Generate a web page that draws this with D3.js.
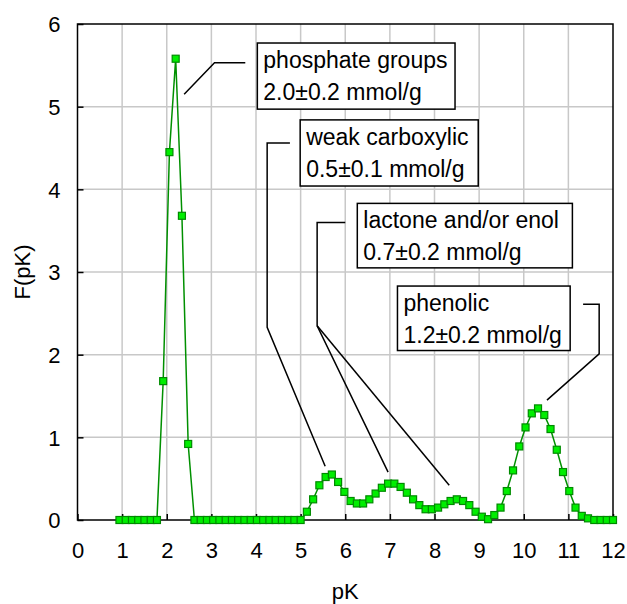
<!DOCTYPE html>
<html>
<head>
<meta charset="utf-8">
<script src="https://cdn.jsdelivr.net/npm/d3@7"></script>
<style>
  html, body { margin: 0; padding: 0; background: #fff; }
  svg { display: block; font-family: "Liberation Sans", Arial, sans-serif; }
</style>
</head>
<body>
<svg id="chart" width="627" height="604"></svg>
<script>
// pK distribution F(pK) from potentiometric titration
const PK = [
  0.94, 1.08, 1.22, 1.36, 1.50, 1.64, 1.78, 1.92, 2.06, 2.20,
  2.34, 2.48, 2.62, 2.76, 2.90, 3.04, 3.18, 3.32, 3.46, 3.60,
  3.74, 3.88, 4.02, 4.16, 4.30, 4.44, 4.58, 4.72, 4.86, 5.00,
  5.14, 5.28, 5.42, 5.56, 5.70, 5.84, 5.98, 6.12, 6.26, 6.40,
  6.54, 6.68, 6.82, 6.96, 7.10, 7.24, 7.38, 7.52, 7.66, 7.80,
  7.94, 8.08, 8.22, 8.36, 8.50, 8.64, 8.78, 8.92, 9.06, 9.20,
  9.34, 9.48, 9.62, 9.76, 9.90, 10.04, 10.18, 10.32, 10.46, 10.60,
  10.74, 10.88, 11.02, 11.16, 11.30, 11.44, 11.58, 11.72, 11.86, 12.00,
];
const F = [
  0, 0, 0, 0, 0, 0, 0, 1.68, 4.45, 5.58,
  3.68, 0.92, 0, 0, 0, 0, 0, 0, 0, 0,
  0, 0, 0, 0, 0, 0, 0, 0, 0, 0,
  0.10, 0.25, 0.42, 0.52, 0.55, 0.46, 0.34, 0.23, 0.20, 0.20,
  0.25, 0.32, 0.39, 0.44, 0.44, 0.40, 0.33, 0.25, 0.18, 0.13,
  0.13, 0.15, 0.19, 0.23, 0.25, 0.23, 0.18, 0.10, 0.04, 0.01,
  0.06, 0.15, 0.35, 0.60, 0.89, 1.12, 1.29, 1.35, 1.27, 1.10,
  0.85, 0.58, 0.35, 0.15, 0.05, 0.02, 0, 0, 0, 0,
];
const X_TICKS = [0, 1, 2, 3, 4, 5, 6, 7, 8, 9, 10, 11, 12];
const Y_TICKS = [0, 1, 2, 3, 4, 5, 6];

// callouts: text lines, box corners and leader paths in data units (pK, F)
const LABELS = [
  { lines: ["phosphate groups", "2.0\u00b10.2 mmol/g"], box: [4.03, 5.77, 8.46, 4.97],
    leaders: [[[3.76, 5.53], [3.07, 5.53], [2.39, 5.15]]] },
  { lines: ["weak carboxylic", "0.5\u00b10.1 mmol/g"], box: [4.99, 4.84, 8.98, 4.04],
    leaders: [[[4.76, 4.56], [4.25, 4.56], [4.25, 2.33], [5.55, 0.65]]] },
  { lines: ["lactone and/or enol", "0.7\u00b10.2 mmol/g"], box: [6.27, 3.83, 11.09, 3.05],
    leaders: [[[6.0, 3.60], [5.37, 3.60], [5.37, 2.35], [6.96, 0.58]],
              [[5.37, 2.35], [8.33, 0.42]]] },
  { lines: ["phenolic", "1.2\u00b10.2 mmol/g"], box: [7.17, 2.83, 11.04, 2.05],
    leaders: [[[11.33, 2.61], [11.69, 2.61], [11.69, 2.01], [10.52, 1.45]]] },
];

const W = 627, H = 604;
const m = { t: 24, r: 14, b: 84, l: 77.5 };
const svg = d3.select("#chart");
const x = d3.scaleLinear().domain([0, 12]).range([m.l, W - m.r]);
const y = d3.scaleLinear().domain([0, 6]).range([H - m.b, m.t]);

// ---- grid ----
const grid = svg.append("g").attr("stroke", "#c8c8c8").attr("stroke-width", 1.5);
grid.selectAll("line.v").data(X_TICKS.slice(1, -1)).join("line")
  .attr("x1", (d) => x(d)).attr("x2", (d) => x(d))
  .attr("y1", y(0)).attr("y2", y(6));
grid.selectAll("line.h").data(Y_TICKS.slice(1, -1)).join("line")
  .attr("class", "h")
  .attr("x1", x(0)).attr("x2", x(12))
  .attr("y1", (d) => y(d)).attr("y2", (d) => y(d));

// ---- axes (ticks point inward) ----
const xAxis = svg.append("g").attr("transform", `translate(0,${y(0)})`)
  .call(d3.axisBottom(x).tickValues(X_TICKS).tickFormat(d3.format("d"))
    .tickSizeInner(-6).tickSizeOuter(0).tickPadding(22));
const yAxis = svg.append("g").attr("transform", `translate(${x(0)},0)`)
  .call(d3.axisLeft(y).tickValues(Y_TICKS).tickFormat(d3.format("d"))
    .tickSizeInner(-6).tickSizeOuter(0).tickPadding(17));
[xAxis, yAxis].forEach((g) => {
  g.selectAll("line").attr("stroke", "#000").attr("stroke-width", 1.5);
  g.select(".domain").remove();
  g.selectAll("text").attr("fill", "#000").style("font-size", "22px")
    .style("font-family", "'Liberation Sans', Arial, sans-serif");
});
yAxis.selectAll("text").attr("dy", "0.35em");

// frame
svg.append("rect").attr("x", x(0)).attr("y", y(6))
  .attr("width", x(12) - x(0)).attr("height", y(0) - y(6))
  .attr("fill", "none").attr("stroke", "#000").attr("stroke-width", 1.5);

// axis titles
svg.append("text").attr("x", (x(0) + x(12)) / 2).attr("y", H - 5)
  .attr("text-anchor", "middle").style("font-size", "22px").text("pK");
svg.append("text")
  .attr("transform", `translate(30,${(y(0) + y(6)) / 2}) rotate(-90)`)
  .attr("text-anchor", "middle").style("font-size", "22px").text("F(pK)");

// ---- leaders + boxes ----
const ann = svg.append("g");
const leader = d3.line().x((p) => x(p[0])).y((p) => y(p[1]));
LABELS.forEach((L) => {
  L.leaders.forEach((pts) => {
    ann.append("path").attr("d", leader(pts))
      .attr("fill", "none").attr("stroke", "#000").attr("stroke-width", 1.5);
  });
  const [x0, y0, x1, y1] = L.box;
  ann.append("rect").attr("x", x(x0)).attr("y", y(y0))
    .attr("width", x(x1) - x(x0)).attr("height", y(y1) - y(y0))
    .attr("fill", "#fff").attr("stroke", "#000").attr("stroke-width", 1.5);
  L.lines.forEach((t, i) => {
    ann.append("text").attr("x", x(x0) + 6).attr("y", y(y0) + 25 + i * 32)
      .style("font-size", "23px").attr("fill", "#000").text(t);
  });
});

// ---- series ----
const pts = PK.map((p, i) => [p, F[i]]);
svg.append("path").datum(pts)
  .attr("d", d3.line().x((d) => x(d[0])).y((d) => y(d[1])))
  .attr("fill", "none").attr("stroke", "#009000").attr("stroke-width", 1.5);
const S = 7;
svg.append("g").selectAll("rect").data(pts).join("rect")
  .attr("x", (d) => x(d[0]) - S / 2).attr("y", (d) => y(d[1]) - S / 2)
  .attr("width", S).attr("height", S)
  .attr("fill", "#00ee00").attr("stroke", "#008a00").attr("stroke-width", 1.2);
</script>
</body>
</html>
